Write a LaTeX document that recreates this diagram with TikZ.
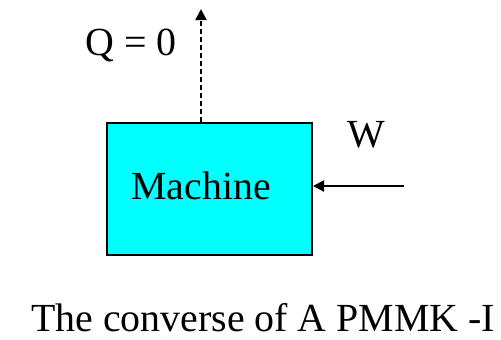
\documentclass[tikz,border=0pt]{standalone}
\usepackage{fontspec}
\setmainfont{Liberation Serif}
\usetikzlibrary{arrows.meta, positioning}
\definecolor{machinecyan}{RGB}{0,255,255}

\begin{document}
\begin{tikzpicture}[x=1bp, y=-1bp, font=\rmfamily\fontsize{40}{44}\selectfont,
  machinebox/.style={draw, line width=2bp, fill=machinecyan, minimum width=205bp, minimum height=132bp, inner sep=0pt},
  flow/.style={-{Triangle[length=11bp, width=11bp]}, line width=2bp},
  label/.style={inner sep=0pt}]
\useasboundingbox (0,0) rectangle (501,339);
% Machine block
\node[machinebox] (machine) at (209.5,189) {};
\node[label] (machinetxt) at (201,186) {Machine};

% Heat out (dashed) and work in
\coordinate (qtop) at (201,9);
\coordinate (win) at (404,186);
\draw[flow, dash pattern=on 5bp off 3bp] (machine.north -| qtop) -- (qtop);
\draw[flow] (win) -- (machine.east |- win);

% Labels
\node[label] (qlabel) at (131,45) {Q = 0};
\node[label] (wlabel) at (366,135) {W};
\node[label] (caption) at (263,318) {The converse of A PMMK -I};
\end{tikzpicture}
\end{document}
